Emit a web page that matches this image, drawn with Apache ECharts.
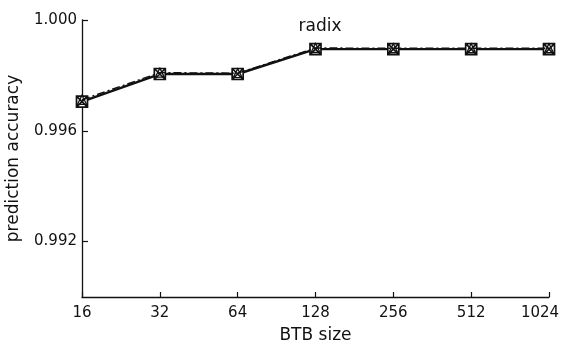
<!DOCTYPE html>
<html>
<head>
<meta charset="utf-8">
<script src="https://cdn.jsdelivr.net/npm/echarts@6/dist/echarts.min.js"></script>
<style>
  html, body { margin: 0; padding: 0; background: #fff; }
  #chart { width: 561px; height: 348px; }
</style>
</head>
<body>
<div id="chart"></div>
<script>
// BTB sizes (x categories)
const btbSizes = ['16', '32', '64', '128', '256', '512', '1024'];
// prediction accuracy, solid line (boxed-X markers)
const accuracySolid = [0.99705, 0.99805, 0.99805, 0.99895, 0.99895, 0.99895, 0.99895];
// prediction accuracy, dash-dot line (triangle markers)
const accuracyDashDot = [0.99712, 0.99810, 0.99808, 0.99899, 0.99898, 0.99898, 0.99898];
// labelled y ticks
const yTickValues = [0.992, 0.996, 1.000];

const FONT = 'DejaVu Sans';
const INK = '#111';

const boxX = 'path://M0,0 L10,0 L10,10 L0,10 Z M0,0 L10,10 M10,0 L0,10';
const tri = 'path://M5,1 L9.5,10 L0.5,10 Z';

const lastSize = btbSizes[btbSizes.length - 1];

const chart = echarts.init(document.getElementById('chart'), null, { renderer: 'canvas' });
chart.setOption({
  animation: false,
  backgroundColor: '#fff',
  title: {
    text: 'radix',
    left: 315,
    top: 13,
    textAlign: 'center',
    textStyle: { fontFamily: FONT, fontSize: 17, fontWeight: 'normal', color: INK }
  },
  grid: { left: 82, right: 12, top: 20, bottom: 51, containLabel: false, outerBoundsMode: 'none' },
  xAxis: {
    type: 'category',
    data: btbSizes,
    boundaryGap: false,
    name: 'BTB size',
    nameLocation: 'middle',
    nameGap: 30,
    nameTextStyle: { fontFamily: FONT, fontSize: 17, color: INK },
    axisLine: { lineStyle: { color: INK, width: 1.3 } },
    axisTick: { inside: true, length: 5, interval: 0, lineStyle: { color: INK, width: 1.2 } },
    axisLabel: {
      fontFamily: FONT, fontSize: 15, color: INK, margin: 9, interval: 0, hideOverlap: false,
      // keep the rightmost label inside the canvas
      formatter: v => (v === lastSize ? '{edge|' + v + '}' : v),
      rich: { edge: { fontFamily: FONT, fontSize: 15, color: INK, padding: [0, 18, 0, 0] } }
    },
    splitLine: { show: false }
  },
  yAxis: {
    type: 'value',
    min: 0.990,
    max: 1.000,
    name: 'prediction accuracy',
    nameLocation: 'middle',
    nameGap: 60,
    nameTextStyle: { fontFamily: FONT, fontSize: 17, color: INK },
    axisLine: { show: true, lineStyle: { color: INK, width: 1.3 } },
    axisTick: { show: true, inside: true, length: 6, customValues: yTickValues, lineStyle: { color: INK, width: 1.2 } },
    axisLabel: {
      fontFamily: FONT, fontSize: 15, color: INK, margin: 5,
      customValues: yTickValues,
      formatter: v => v.toFixed(3)
    },
    splitLine: { show: false }
  },
  series: [
    {
      name: 'solid',
      type: 'line',
      data: accuracySolid,
      symbol: boxX,
      symbolSize: 11,
      showAllSymbol: true,
      lineStyle: { color: INK, width: 2.4, type: 'solid' },
      itemStyle: { color: '#fff', borderColor: INK, borderWidth: 1.7 },
      z: 3
    },
    {
      name: 'dashdot',
      type: 'line',
      data: accuracyDashDot,
      symbol: tri,
      symbolSize: 9,
      showAllSymbol: true,
      lineStyle: { color: INK, width: 1.4, type: [8, 3, 2, 3] },
      itemStyle: { color: 'rgba(255,255,255,0)', borderColor: INK, borderWidth: 1.3 },
      z: 4
    }
  ]
});
</script>
</body>
</html>
